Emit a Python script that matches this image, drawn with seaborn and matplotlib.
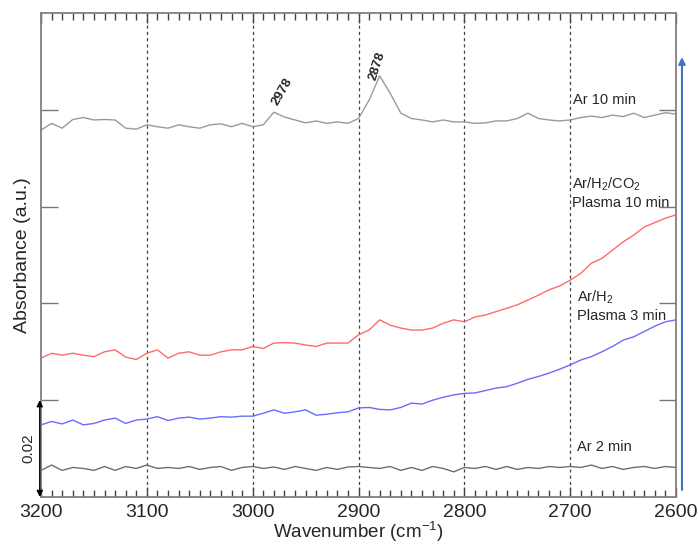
import numpy as np
import pandas as pd
import matplotlib
matplotlib.use('Agg')
import matplotlib.pyplot as plt
from matplotlib.ticker import MultipleLocator
import seaborn as sns

sns.set_style('ticks')
plt.rcParams['font.family'] = ['Liberation Sans', 'DejaVu Sans']
plt.rcParams['mathtext.fontset'] = 'custom'
plt.rcParams['mathtext.rm'] = 'Liberation Sans'

# 파수 (cm-1), 10 cm-1 간격
wavenumber = np.arange(3200, 2599, -10)

# 흡광도 값
ar_10min = [0.0758, 0.0772, 0.0762, 0.0780, 0.0784, 0.0779, 0.0780, 0.0779, 0.0762, 0.0760,
            0.0769, 0.0765, 0.0762, 0.0769, 0.0765, 0.0762, 0.0769, 0.0771, 0.0765, 0.0772,
            0.0765, 0.0769, 0.0795, 0.0785, 0.0779, 0.0773, 0.0777, 0.0772, 0.0775, 0.0772,
            0.0782, 0.0820, 0.0870, 0.0834, 0.0793, 0.0782, 0.0779, 0.0775, 0.0779, 0.0775,
            0.0775, 0.0772, 0.0773, 0.0777, 0.0777, 0.0782, 0.0793, 0.0782, 0.0779, 0.0777,
            0.0779, 0.0784, 0.0787, 0.0784, 0.0789, 0.0786, 0.0793, 0.0784, 0.0789, 0.0794,
            0.0791]
co2_plasma = [0.0287, 0.0297, 0.0293, 0.0297, 0.0293, 0.0290, 0.0300, 0.0304, 0.0289, 0.0284,
              0.0297, 0.0304, 0.0287, 0.0297, 0.0300, 0.0293, 0.0293, 0.0300, 0.0304, 0.0304,
              0.0311, 0.0307, 0.0318, 0.0319, 0.0318, 0.0314, 0.0311, 0.0318, 0.0318, 0.0318,
              0.0335, 0.0345, 0.0366, 0.0355, 0.0349, 0.0345, 0.0345, 0.0349, 0.0359, 0.0366,
              0.0362, 0.0372, 0.0376, 0.0383, 0.0390, 0.0397, 0.0407, 0.0417, 0.0428, 0.0436,
              0.0448, 0.0462, 0.0483, 0.0493, 0.0510, 0.0527, 0.0541, 0.0558, 0.0567, 0.0576,
              0.0583]
h2_plasma = [0.0149, 0.0156, 0.0151, 0.0159, 0.0149, 0.0152, 0.0159, 0.0163, 0.0152, 0.0159,
             0.0161, 0.0166, 0.0158, 0.0163, 0.0165, 0.0161, 0.0163, 0.0166, 0.0165, 0.0167,
             0.0167, 0.0173, 0.0180, 0.0173, 0.0176, 0.0180, 0.0169, 0.0171, 0.0174, 0.0176,
             0.0184, 0.0185, 0.0181, 0.0180, 0.0185, 0.0194, 0.0192, 0.0200, 0.0206, 0.0211,
             0.0214, 0.0215, 0.0220, 0.0225, 0.0228, 0.0235, 0.0243, 0.0249, 0.0256, 0.0264,
             0.0273, 0.0283, 0.0290, 0.0300, 0.0311, 0.0324, 0.0331, 0.0342, 0.0353, 0.0362,
             0.0366]
ar_2min = [0.0055, 0.0066, 0.0055, 0.0061, 0.0059, 0.0055, 0.0063, 0.0055, 0.0063, 0.0059,
           0.0066, 0.0059, 0.0061, 0.0059, 0.0063, 0.0057, 0.0061, 0.0063, 0.0055, 0.0061,
           0.0063, 0.0059, 0.0062, 0.0057, 0.0063, 0.0059, 0.0055, 0.0061, 0.0057, 0.0062,
           0.0063, 0.0061, 0.0059, 0.0063, 0.0055, 0.0061, 0.0055, 0.0063, 0.0059, 0.0052,
           0.0061, 0.0059, 0.0063, 0.0057, 0.0063, 0.0057, 0.0061, 0.0059, 0.0063, 0.0061,
           0.0063, 0.0061, 0.0066, 0.0059, 0.0063, 0.0057, 0.0061, 0.0063, 0.0059, 0.0063,
           0.0061]

series_names = ['Ar 10 min', 'Ar/H2/CO2 Plasma 10 min', 'Ar/H2 Plasma 3 min', 'Ar 2 min']
series_colors = ['#9a9a9a', '#ff6b6b', '#6b6bff', '#6e6e6e']
label_texts = ['Ar 10 min', 'Ar/H$_2$/CO$_2$\nPlasma 10 min', 'Ar/H$_2$\nPlasma 3 min', 'Ar 2 min']
label_pos = [(2697, 0.0820), (2698, 0.0629), (2694, 0.0396), (2694, 0.0103)]

peak_labels = ['2978', '2878']
peak_pos = [(2972, 0.0837), (2882, 0.0890)]
peak_rot = [60, 72]

grid_lines = [3100, 3000, 2900, 2800, 2700]

df = pd.DataFrame({
    'wn': np.tile(wavenumber, 4),
    'abs': ar_10min + co2_plasma + h2_plasma + ar_2min,
    'sample': np.repeat(series_names, len(wavenumber)),
})

fig = plt.figure(figsize=(6.99, 5.44), dpi=100)
ax = fig.add_axes([0.0587, 0.0864, 0.9084, 0.8897])

sns.lineplot(data=df, x='wn', y='abs', hue='sample', hue_order=series_names,
             palette=series_colors, linewidth=1.0, legend=False, ax=ax)

# 세로 점선
for wn in grid_lines:
    ax.axvline(wn, color='#444444', linestyle=(0, (2.5, 2.5)), linewidth=0.9, zorder=0)

ax.set_xlim(3200, 2600)
ax.set_ylim(0, 0.1)
ax.xaxis.set_major_locator(MultipleLocator(100))
ax.xaxis.set_minor_locator(MultipleLocator(10))
ax.set_yticks([0.02, 0.04, 0.06, 0.08])
ax.set_yticklabels([])
ax.tick_params(axis='x', which='both', direction='in', top=True, bottom=True,
               color='#444444')
ax.tick_params(axis='x', which='major', length=7, width=1.0, labelsize=14, pad=5)
ax.tick_params(axis='x', which='minor', length=5, width=1.0)
ax.tick_params(axis='y', direction='in', length=12, width=1.0, left=True,
               right=True, color='#777777')

for s in ax.spines.values():
    s.set_color('#808080')
    s.set_linewidth(1.3)

ax.set_xlabel('Wavenumber (cm$^{-1}$)', fontsize=13.5, labelpad=-1)
ax.set_ylabel('Absorbance (a.u.)', fontsize=14, labelpad=4)

for txt, (x, y) in zip(label_texts, label_pos):
    ax.text(x, y, txt, fontsize=10.5, ha='left', va='center', linespacing=1.3)

for txt, (x, y), r in zip(peak_labels, peak_pos, peak_rot):
    ax.text(x, y, txt, fontsize=9.5, fontweight='bold', rotation=r, ha='center', va='center')

# 0.02 스케일 막대
ax.annotate('', xy=(-0.002, 0.0), xytext=(-0.002, 0.02),
            xycoords=('axes fraction', 'data'), textcoords=('axes fraction', 'data'),
            arrowprops=dict(arrowstyle='<|-|>', color='black', lw=1.0,
                            mutation_scale=9, shrinkA=0, shrinkB=0), annotation_clip=False)
ax.text(-0.02, 0.01, '0.02', rotation=90, fontsize=11, ha='center', va='center',
        transform=ax.get_yaxis_transform())

# 오른쪽 파란 화살표
ax.annotate('', xy=(1.0094, 0.909), xytext=(1.0094, 0.0145), xycoords='axes fraction',
            arrowprops=dict(arrowstyle='-|>', color='#4472C4', lw=1.5,
                            mutation_scale=10, shrinkA=0, shrinkB=0), annotation_clip=False)

plt.savefig('out.png', dpi=100)
